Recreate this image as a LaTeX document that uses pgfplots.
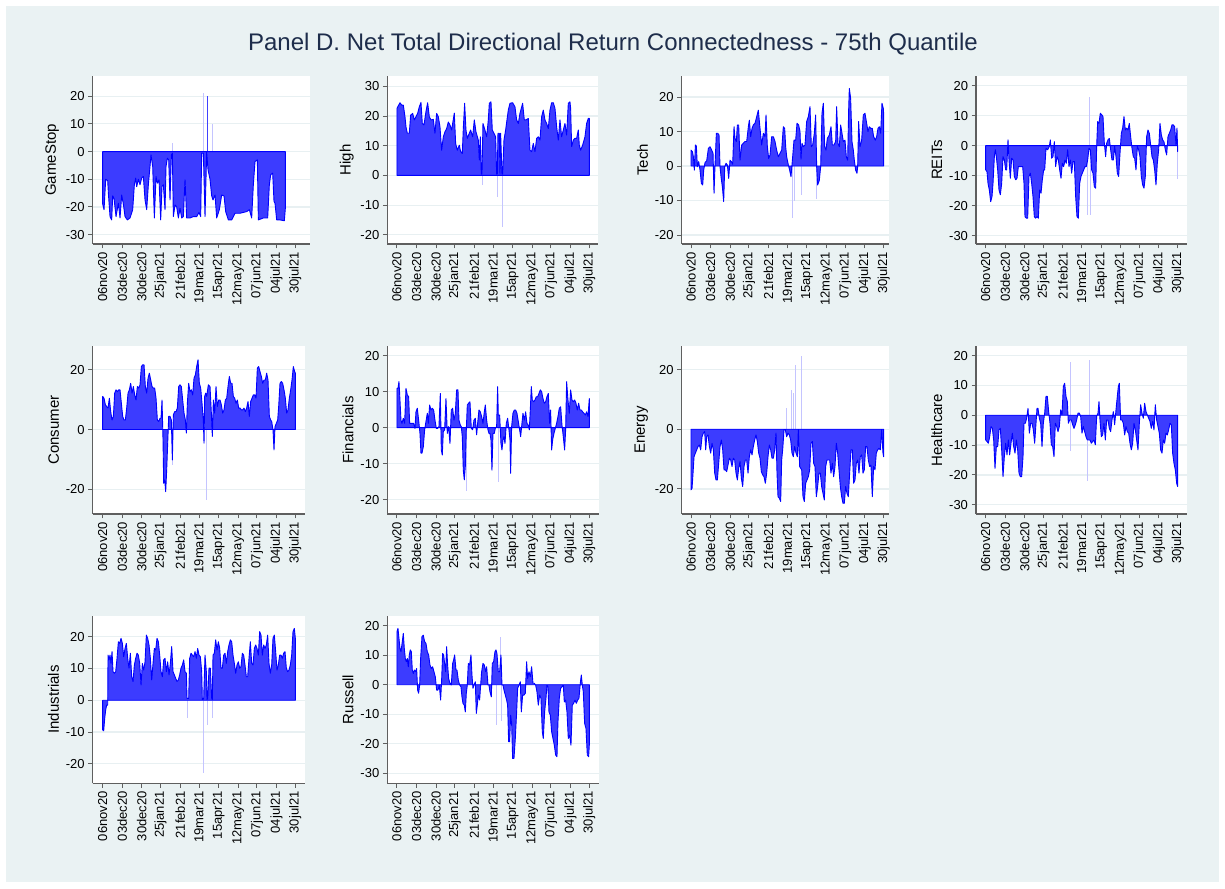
\documentclass[border=0pt]{standalone}
\usepackage{fontspec}
\setmainfont{Liberation Sans}
\usepackage{pgfplots}
\pgfplotsset{compat=1.18}
\definecolor{bgc}{RGB}{234,242,243}
\definecolor{gridc}{RGB}{232,240,242}
\definecolor{axc}{RGB}{95,95,95}
\definecolor{fillb}{RGB}{60,60,255}
\definecolor{lineb}{RGB}{0,0,255}
\definecolor{spk}{RGB}{196,196,255}
\definecolor{titc}{RGB}{30,45,75}
\pgfplotsset{
  panel/.style={
    scale only axis, height=168pt, anchor=south west,
    axis x line*=bottom, axis y line*=left,
    axis line style={axc, line width=1.2pt},
    tick align=outside, major tick length=4.5pt,
    tick style={axc, line width=1pt},
    ymajorgrids, grid style={gridc, line width=1.2pt},
    axis background/.style={fill=white},
    ticklabel style={font=\fontsize{13}{15}\selectfont, text=black},
    /pgf/number format/assume math mode=true,
    xticklabel style={rotate=90, anchor=east},
    xticklabels={06nov20,03dec20,30dec20,25jan21,21feb21,19mar21,15apr21,12may21,07jun21,04jul21,30jul21},
    ylabel style={font=\fontsize{15}{17}\selectfont, text=black},
    scaled y ticks=false,
  },
  grpA/.style={xtick={188,246.7,305.3,361.8,420.5,477,535.7,594.3,650.8,709.5,766}},
  grpB/.style={xtick={201,259.6,318.1,374.5,433.1,489.5,548.1,606.6,663,721.6,778}},
  grpC/.style={xtick={213,271.7,330.3,386.8,445.5,502,560.7,619.3,675.8,734.5,791}},
  grpD/.style={xtick={257,315.5,373.9,430.2,488.7,545,603.5,661.9,718.2,776.7,833}},
  areast/.style={draw=lineb, fill=fillb, line width=0.9pt, line join=round, mark=none},
  spikest/.style={ycomb, draw=spk, line width=0.7pt, mark=none},
}
\begin{document}
\begin{tikzpicture}
\useasboundingbox (0,0) rectangle (1225pt,888pt);
\fill[white] (0,0) rectangle (1225pt,888pt);
\fill[bgc] (6pt,6pt) rectangle (1219pt,882pt);
\node[anchor=base, font=\fontsize{24}{28}\selectfont, text=titc] at (613pt,837pt) {Panel D. Net Total Directional Return Connectedness - 75th Quantile};

% ---------- GameStop
\begin{axis}[panel, grpA, at={(92.7pt,644pt)}, width=217.3pt, xmin=158, xmax=810, ymin=-33.4, ymax=27.3, ytick={-30,-20,...,20}, ylabel={GameStop}]
\addplot[spikest] coordinates {(491,21)(517,10)(396,3)};
\addplot[ycomb, draw=lineb!75, line width=0.8pt, mark=none] coordinates {(502,20)};
\addplot[areast] coordinates {(188,-19)(192,-21)(197,-10)(203,-10.5)(205,-15)(210,-23.5)(215,-24.7)(218,-16)(222,-17)(228,-23.5)(235,-18.7)(240,-24)(245,-15.7)(250,-19)(255,-23.5)(262,-24.7)(270,-24)(278,-21)(283,-12)(287,-9.6)(290,-12.7)(295,-10)(300,-12)(305,-9.6)(310,-9)(315,-17.5)(320,-21)(325,-12)(333,-1.2)(338,-5.4)(343,-24)(348,-9)(352,-11.4)(357,-10.2)(362,-24.7)(366,-12.6)(370,-12)(375,-21)(378,-5.4)(382,-2.4)(386,-3)(390,-17.5)(394,-1.2)(397,-0.6)(400,-23.5)(405,-19.3)(410,-20)(415,-24)(420,-20.5)(425,-24)(430,-23.5)(435,-10.2)(440,-24)(450,-24)(460,-23.5)(470,-23.5)(477,-22)(482,-23.5)(485,-0.6)(490,-0.6)(495,-23.5)(500,-0.3)(504,-6.6)(510,-10)(515,-16)(519,-17.5)(525,-15.7)(530,-24)(538,-21)(545,-15.7)(552,-16)(557,-21.7)(565,-24.7)(575,-24.7)(585,-22.3)(600,-22.3)(620,-21.7)(628,-21)(635,-24)(640,-12)(645,-3.6)(652,-3)(655,-24.7)(670,-24)(683,-24)(688,-12)(692,-8.4)(698,-7.8)(702,-18)(705,-18.7)(710,-24.7)(720,-24.7)(733,-25)(736,-20.5)} \closedcycle;
\end{axis}

% ---------- High
\begin{axis}[panel, grpB, at={(387.3pt,644pt)}, width=211pt, xmin=172, xmax=805, ymin=-23.1, ymax=33.5, ytick={-20,-10,...,30}, ylabel={High}]
\addplot[spikest] coordinates {(457,-3.3)(502,-7.2)(516,-17.3)};
\addplot[areast] coordinates {(201,22.6)(210,24.5)(215,23.7)(220,23.7)(225,19.8)(228,16.4)(232,14.2)(238,14.2)(242,20.3)(248,20.9)(253,18.7)(258,19.8)(263,20.9)(268,23.1)(273,24.6)(277,17.5)(282,17)(288,21.5)(293,24.5)(298,19.8)(303,18.7)(310,18.9)(315,14.2)(320,20.9)(325,19.8)(330,16.4)(335,8.5)(340,13)(345,14.7)(350,15.8)(355,18)(360,17)(365,15.3)(373,21)(377,10.8)(382,8.5)(388,10.2)(392,8)(397,7.4)(400,15.8)(404,24.3)(408,15.3)(412,12.5)(418,14.2)(422,15.3)(428,13)(433,18.7)(438,14.7)(445,11.9)(448,5.2)(451,13)(454,0.5)(456,0.5)(459,17.5)(465,15.3)(470,13)(475,18.7)(478,24.3)(483,24.8)(487,15.3)(492,14.2)(497,13)(500,0.5)(502,0.5)(504,14.2)(508,14.2)(510,0.5)(512,14.2)(516,0.5)(518,0.5)(522,11.9)(527,15.3)(531,18.7)(535,22)(540,24.3)(548,24.5)(555,23.1)(560,18.7)(565,17.5)(570,20.9)(578,24.3)(583,18.7)(588,18.7)(595,19.2)(600,8.5)(605,8)(610,10.8)(615,8)(620,12.5)(625,13)(630,11.9)(635,19.8)(640,22)(645,18.7)(650,17.5)(655,15.8)(660,22)(665,24.5)(670,24.5)(675,22.6)(680,16.4)(685,11.9)(690,18.7)(695,13)(700,15.3)(705,17.5)(710,13.6)(715,24.3)(720,24.8)(722,22.6)(725,9.7)(730,11.9)(735,12.5)(740,12.5)(745,15.3)(748,10.2)(752,8.5)(758,10.2)(765,13)(770,17.5)(775,19.2)(778,19.2)} \closedcycle;
\end{axis}

% ---------- Tech
\begin{axis}[panel, grpC, at={(681.7pt,644pt)}, width=207.6pt, xmin=185, xmax=808, ymin=-22.6, ymax=26.1, ytick={-20,-10,...,20}, ylabel={Tech}]
\addplot[spikest] coordinates {(516,-15.2)(522,-10)(543,-8.4)(590,-9.5)};
\addplot[areast] coordinates {(213,4.6)(217,4.2)(220,2.7)(223,-1.2)(226,6.1)(229,5.8)(232,-0.2)(236,1.3)(240,-1.2)(244,-5)(248,-5.5)(251,-1.2)(255,1)(260,1.5)(265,5.1)(270,5.6)(275,4.6)(279,3.7)(282,-7.9)(285,0.3)(289,9.5)(293,9.5)(297,9)(300,-0.2)(303,-3.1)(307,-6)(311,-10.3)(314,-0.2)(318,0.8)(322,0.3)(326,-3.6)(330,1.7)(334,1.3)(338,0.5)(342,11.4)(345,8)(349,7.1)(352,11.9)(356,11.9)(360,1.7)(365,6.1)(370,6.6)(375,7.1)(380,7.1)(385,11.4)(388,13.3)(392,8.5)(396,10.9)(400,11.9)(405,12.4)(410,14.3)(415,16.2)(420,10.9)(425,6.1)(430,9.5)(435,8.5)(438,14.8)(442,5.6)(446,2.2)(450,3.2)(455,8.5)(460,8.5)(465,7.1)(470,4.6)(475,2.7)(480,3.7)(485,4.6)(490,11.4)(494,10.9)(497,5.6)(500,2.7)(505,0.3)(509,-1.2)(513,-3.1)(518,2.7)(522,7.5)(527,7.5)(531,12.4)(536,11.9)(540,10)(543,2)(546,6.6)(550,5.6)(555,6.1)(560,12.9)(565,14.3)(570,17.2)(574,5.6)(578,6.1)(583,9.5)(587,14.8)(590,-0.2)(593,-5.5)(598,-4.1)(602,-0.2)(606,15.3)(610,18.2)(614,5.6)(618,4.6)(622,8)(628,9)(633,11.4)(637,6.1)(642,6.1)(647,7.1)(650,17.2)(654,6.6)(658,5.6)(662,11.9)(666,9.5)(670,7.1)(675,7.5)(679,2.7)(683,1.7)(686,16.2)(688,22.5)(692,19.6)(696,7.1)(700,4.6)(703,1.7)(707,-1.2)(711,-2.1)(713,-0.2)(716,12.9)(720,5.6)(725,7.5)(730,14.8)(735,15.3)(740,12.4)(744,10)(748,11.4)(753,10.9)(757,10.9)(761,8.5)(766,7.5)(770,8.5)(774,10.9)(778,11.4)(782,9.5)(786,18.2)(790,16.7)(791,15.3)} \closedcycle;
\end{axis}

% ---------- REITs
\begin{axis}[panel, grpD, at={(976pt,644pt)}, width=211.3pt, xmin=228, xmax=862, ymin=-32.8, ymax=23.2, ytick={-30,-20,...,20}, ylabel={REITs}]
\addplot[spikest] coordinates {(569,16.3)(563,-23)(571,-23)(833,-11)};
\addplot[areast] coordinates {(257,-8.1)(261,-8.7)(264,-12.6)(268,-14.8)(272,-18.7)(276,-17)(279,-12.6)(283,-3.7)(286,-1.4)(289,-3.7)(293,-8.1)(297,-14.8)(301,-16.4)(305,-12.6)(309,-3.7)(313,-4.8)(317,-8.1)(320,-8.1)(324,1.9)(327,-4.8)(331,-10.9)(335,-4.2)(339,-4.8)(343,-10.3)(347,-11.4)(351,-10.9)(355,-7)(359,-7)(363,-7)(368,-7)(372,-12.6)(375,-23.7)(379,-24.2)(383,-24.2)(387,-10.3)(391,-9.2)(395,-12.6)(399,-17)(403,-23.7)(407,-24.2)(411,-23.7)(415,-24.2)(419,-14.8)(423,-15.9)(427,-11.4)(431,-8.1)(434,-8.1)(438,-0.9)(443,-1.4)(448,-0.3)(451,1.9)(455,-4.2)(459,-3.7)(463,1.3)(467,-7)(471,-3.7)(475,-4.8)(479,-8.1)(483,-10.9)(487,-5.9)(491,-7)(495,-4.8)(499,-5.9)(503,-1.4)(507,-7)(511,-4.8)(515,-9.2)(519,-5.3)(523,-5.3)(527,-17)(531,-23.7)(535,-24.2)(539,-12.6)(543,-10.3)(547,-9.2)(551,-8.1)(555,-7)(559,-7)(563,-4.8)(567,-0.9)(571,-1.4)(575,-8.1)(579,-9.2)(583,-13.7)(587,-14.2)(590,-0.3)(593,8)(597,7.4)(601,10.8)(605,10.3)(609,9.7)(613,0.8)(617,-3.7)(620,0.8)(624,1.9)(628,2.4)(632,-1.4)(636,-4.8)(640,-4.8)(644,-0.3)(648,-3.7)(652,-9.2)(656,-10.3)(660,-2.6)(664,4.1)(668,5.8)(672,9.7)(676,5.2)(680,5.8)(684,5.2)(688,7.4)(692,3)(696,-0.9)(700,-3.7)(704,-4.2)(708,-8.1)(712,-0.3)(716,-1.4)(720,-3.7)(724,-10.3)(728,-13.1)(732,-14.2)(736,-10.3)(740,3)(744,5.2)(748,4.1)(752,0.2)(756,-3.7)(760,-4.8)(764,-8.1)(768,-13.1)(772,-5.9)(776,-1.4)(780,7.4)(784,3.6)(788,1.9)(792,1.3)(796,-1.4)(800,-3.1)(804,3)(808,4.1)(812,5.2)(816,6.9)(820,6.9)(824,6.3)(828,0.2)(831,5.8)(833,-2)} \closedcycle;
\end{axis}

% ---------- Consumer
\begin{axis}[panel, grpA, at={(92.7pt,374pt)}, width=212.3pt, xmin=158, xmax=795, ymin=-28.3, ymax=28, ytick={-20,0,20}, ylabel={Consumer}]
\addplot[spikest] coordinates {(499,-23.6)(398,-12)};
\addplot[areast] coordinates {(188,11.1)(192,10.5)(196,8.3)(200,7.7)(204,7.2)(208,10.5)(212,6)(216,3.2)(220,4.4)(224,12.2)(228,13.3)(232,12.7)(236,13.3)(240,13.3)(244,8.8)(248,4.4)(252,3.2)(256,3.2)(260,7.2)(264,12.2)(268,13.3)(272,15.5)(276,12.2)(280,14.4)(284,11.6)(288,9.9)(292,14.4)(296,13.9)(300,15)(304,21.1)(308,21.7)(312,21.7)(316,14.4)(320,12.2)(324,17.2)(328,18.9)(332,16.6)(336,14.4)(340,13.9)(344,13.9)(348,10.5)(352,3.2)(356,2.7)(360,3.8)(363,3.8)(366,9.9)(369,-3.5)(371,-18)(374,-16.9)(377,-20.8)(380,-13.5)(383,-4.6)(386,4.4)(390,4.4)(394,3.2)(397,-10.2)(400,4.9)(404,6)(408,6)(412,7.2)(416,14.4)(420,15)(424,14.4)(428,9.9)(432,5.5)(436,3.2)(439,-1.2)(442,8.8)(446,15.5)(450,12.7)(454,13.3)(458,11.6)(462,17.2)(466,18.3)(470,21.1)(474,23.4)(478,15.5)(482,13.9)(486,8.8)(490,3.2)(492,-4.6)(494,11.1)(497,12.2)(500,11.1)(505,15)(510,14.4)(514,5.5)(517,-2.3)(520,9.9)(524,5.5)(528,14.4)(532,7.7)(536,9.9)(540,9.9)(544,8.3)(548,5.5)(552,6.6)(556,9.9)(560,10.5)(564,14.4)(568,17.8)(572,15.5)(576,15.5)(580,11.1)(584,10.5)(588,8.8)(592,9.9)(596,7.2)(600,7.2)(604,6.6)(608,6.6)(612,7.2)(616,6)(620,7.2)(624,9.4)(628,4.4)(632,9.4)(636,10.5)(640,11.6)(644,11.6)(648,10.5)(652,20.6)(656,21.1)(660,19.4)(664,17.8)(668,15.5)(672,16.6)(676,16.6)(680,18.9)(684,16.6)(688,4.4)(692,3.2)(695,2.7)(699,-0.1)(702,-6.8)(705,1)(709,2.1)(713,3.2)(716,7.7)(720,15.5)(724,16.1)(728,15.5)(732,13.3)(736,10.5)(740,5.5)(744,6.6)(748,10.5)(752,13.3)(756,16.6)(760,21.1)(764,19.4)(766,18.9)} \closedcycle;
\end{axis}

% ---------- Financials
\begin{axis}[panel, grpB, at={(387.3pt,374pt)}, width=212pt, xmin=172, xmax=808, ymin=-24, ymax=22.7, ytick={-20,-10,...,20}, ylabel={Financials}]
\addplot[spikest] coordinates {(408,-17.5)(505,-15)};
\addplot[areast] coordinates {(201,10.9)(204,10.9)(207,12.8)(210,7.7)(213,2.1)(216,1.2)(220,2.6)(224,1.2)(228,10.9)(232,9.1)(236,8.6)(239,1.2)(243,1.2)(247,1.2)(251,1.2)(255,-0.2)(258,4.4)(262,5.4)(266,2.1)(270,-1.6)(273,-7.1)(276,-7.1)(280,-5.3)(284,-0.6)(288,1.7)(292,4)(295,1.2)(299,6.3)(303,4.9)(307,5.4)(311,4.9)(315,2.1)(319,-0.2)(323,-0.2)(327,0.3)(331,9.5)(334,-6.2)(337,-7.6)(340,-1.1)(344,-0.6)(348,8.1)(352,-1.6)(356,0.3)(360,-4.4)(364,4.9)(368,5.4)(372,2.1)(376,4)(380,10.5)(384,10.5)(387,2.1)(391,0.7)(394,0.3)(397,-2.5)(400,-11.8)(403,-14.5)(406,-10.8)(409,-0.6)(412,6.3)(416,6.8)(420,7.2)(424,-0.2)(428,-0.6)(432,2.1)(436,2.6)(440,-2)(443,1.2)(447,4.9)(451,4.4)(455,3.1)(459,1.2)(463,4.4)(466,6.3)(470,2.1)(474,-0.6)(477,-1.6)(480,-1.6)(483,-3.4)(486,-11.8)(489,-1.6)(493,-1.6)(496,-0.2)(500,0.3)(503,11.4)(505,3.5)(509,3.5)(513,-4.4)(516,-6.2)(519,-3.4)(522,-2.5)(525,-4.4)(529,1.2)(533,2.6)(537,-0.6)(540,-3.4)(542,-12.7)(545,0.3)(549,4)(553,4.9)(557,4.9)(561,4)(565,1.7)(569,-0.6)(572,-2.5)(575,0.3)(579,4)(583,2.1)(587,4.4)(591,1.2)(595,0.7)(598,-0.6)(601,4.9)(604,11.4)(607,7.7)(611,7.2)(615,7.7)(619,8.6)(623,8.6)(627,9.5)(631,10.5)(635,10)(639,8.1)(643,6.8)(647,7.2)(651,8.6)(655,9.5)(659,1.2)(662,4.9)(665,-6.2)(668,-3.4)(672,-1.6)(676,-0.2)(680,1.2)(684,3.1)(688,5.4)(692,5.8)(696,0.7)(700,-2.5)(704,-6.2)(707,-0.6)(710,12.8)(714,7.7)(718,4)(722,10.5)(726,7.7)(730,7.2)(734,7.7)(738,6.8)(742,4.9)(746,6.8)(750,4.9)(754,4.9)(758,4.4)(762,4)(766,3.5)(770,4.4)(774,3.1)(778,8.1)} \closedcycle;
\end{axis}

% ---------- Energy
\begin{axis}[panel, grpC, at={(681.7pt,374pt)}, width=207.6pt, xmin=185, xmax=808, ymin=-28.4, ymax=27.9, ytick={-20,0,20}, ylabel={Energy}]
\addplot[spikest] coordinates {(498,7)(514,13.2)(519,12)(526,21.6)(543,24.6)};
\addplot[areast] coordinates {(213,-20.3)(216,-19.8)(219,-14.7)(222,-9.2)(226,-8)(230,-6.9)(234,-5.8)(238,-5.3)(242,-6.9)(246,-2.5)(250,-1.3)(254,-0.8)(257,-6.9)(260,-2.5)(264,-1.9)(268,-5.8)(272,-8)(276,-4.7)(280,-6.9)(284,-14.7)(288,-17)(292,-17)(296,-11.4)(300,-5.8)(304,-3.6)(308,-6.9)(312,-13.6)(316,-13.6)(320,-14.2)(324,-12)(328,-9.7)(332,-10.3)(336,-12.5)(340,-9.7)(344,-10.3)(348,-14.7)(352,-17)(356,-13.1)(360,-10.8)(364,-16.4)(368,-19.2)(372,-12.5)(376,-10.3)(380,-10.3)(384,-14.7)(388,-9.2)(392,-6.9)(396,-8.6)(400,-5.8)(404,-3.6)(408,-1.9)(412,-4.1)(416,-8)(420,-9.7)(424,-14.2)(428,-15.3)(432,-15.9)(436,-18.1)(440,-14.7)(444,-9.2)(448,-5.3)(452,-6.9)(456,-9.7)(460,-9.7)(464,-6.9)(468,-1.3)(471,-14.7)(474,-22.6)(478,-23.1)(482,-24.2)(485,-10.3)(488,-6.9)(492,-0.2)(496,-0.2)(500,-2.5)(504,-1.3)(508,-1.9)(512,-3.6)(516,-8)(520,-9.2)(524,-5.8)(528,-8)(532,-9.2)(535,-0.2)(539,-12.5)(545,-13.6)(549,-22.6)(553,-24.2)(557,-18.1)(561,-17)(565,-15.9)(569,-13.6)(573,-4.7)(577,-4.1)(581,-11.4)(585,-12.5)(589,-22.6)(593,-19.2)(597,-14.7)(601,-14.7)(605,-19.2)(609,-21.5)(613,-23.7)(617,-12.5)(621,-10.3)(625,-10.3)(629,-10.3)(633,-14.7)(637,-11.4)(641,-15.9)(645,-12.5)(649,-4.7)(653,-8)(657,-13.6)(661,-19.2)(665,-22.6)(669,-24.8)(673,-24.8)(677,-19.2)(681,-21.5)(685,-22.6)(689,-14.7)(693,-6.9)(697,-6.9)(701,-18.1)(705,-17)(709,-11.4)(713,-10.3)(717,-14.7)(721,-9.2)(725,-8.6)(729,-14.7)(733,-13.6)(737,-5.8)(741,-5.8)(745,-10.3)(749,-12.5)(753,-12)(757,-22.6)(761,-12.5)(765,-13.6)(769,-8)(773,-6.9)(777,-6.4)(781,-6.9)(785,-0.2)(789,-8)(791,-9.2)} \closedcycle;
\end{axis}

% ---------- Healthcare
\begin{axis}[panel, grpD, at={(976pt,374pt)}, width=211.3pt, xmin=228, xmax=862, ymin=-33.1, ymax=23.2, ytick={-30,-20,...,20}, ylabel={Healthcare}]
\addplot[spikest] coordinates {(512,18)(568,18.5)(562,-22)(510,-12)};
\addplot[areast] coordinates {(257,-8.3)(261,-8.8)(265,-9.4)(269,-7.2)(273,-3.8)(277,-4.4)(281,-8.3)(285,-17.8)(289,-10.5)(293,-10.5)(297,-4.9)(301,-4.4)(305,-11.6)(309,-20.6)(313,-13.9)(317,-9.4)(321,-13.3)(325,-8.3)(329,-13.3)(333,-9.4)(337,-6)(341,-10.5)(345,-12.7)(349,-8.3)(353,-11.6)(357,-19.4)(361,-20.6)(365,-20.6)(369,-13.9)(372,-2.7)(376,-2.7)(380,-1)(384,2.3)(388,-6)(392,-2.7)(396,-2.7)(400,-4.9)(404,-9.4)(408,-2.7)(411,2.3)(414,2.3)(418,-1)(422,-2.7)(426,-10.5)(430,-2.7)(434,0.7)(438,6.3)(442,6.3)(446,1.2)(450,-2.7)(454,-9.9)(458,-10.5)(462,-13.9)(466,-2.7)(470,-3.8)(474,-5.5)(478,-3.8)(482,1.8)(486,0.1)(490,9.6)(494,10.7)(498,6.3)(502,4.6)(505,-2.7)(509,-1.6)(514,-1.6)(518,-3.2)(522,-4.4)(526,-3.2)(530,-1.6)(534,0.7)(538,0.7)(542,-0.4)(546,-6)(550,-3.8)(554,-5.5)(558,-7.2)(562,-8.3)(566,-8.3)(570,-8.3)(574,-9.4)(578,-8.8)(582,-8.3)(586,-9.9)(590,-0.4)(594,0.7)(597,4.6)(600,-1.6)(604,-7.2)(608,-6.6)(612,-2.7)(616,-8.3)(620,-1.6)(624,-1.6)(628,-4.4)(632,-5.5)(636,-1.6)(640,1.2)(644,-3.2)(648,1.8)(652,6.3)(655,9.6)(658,10.7)(662,-1.6)(666,-1.6)(670,-2.7)(674,-6.6)(678,-3.8)(682,-5.5)(686,-6)(690,-9.4)(694,-11.6)(698,-9.4)(702,-2.7)(706,-4.9)(710,-8.3)(714,-11.6)(718,-2.7)(722,3.5)(726,0.7)(730,-1)(734,4)(738,1.2)(742,0.1)(746,-1)(750,-2.1)(754,-4.4)(758,-2.1)(762,-4.9)(766,3.5)(770,-1.6)(774,-3.8)(778,-6)(782,-11.6)(786,-12.7)(790,-8.3)(794,-9.4)(798,-6)(802,-6.6)(806,-4.9)(810,-2.7)(814,-3.2)(818,-12.7)(822,-16.1)(826,-18.3)(830,-22.8)(833,-23.9)} \closedcycle;
\end{axis}

% ---------- Industrials
\begin{axis}[panel, grpA, at={(92.7pt,104.7pt)}, width=212.3pt, height=167.6pt, xmin=158, xmax=795, ymin=-26.1, ymax=26.6, ytick={-20,-10,...,20}, ylabel={Industrials}]
\addplot[spikest] coordinates {(443,-5.7)(489,-22.9)(501,-7.7)(517,-5.7)};
\addplot[areast] coordinates {(188,-9.3)(191,-9.6)(194,-5.7)(197,-3)(200,-1.5)(203,-1.5)(204,14.2)(207,12.7)(210,14.2)(213,11.6)(216,15.3)(219,9)(223,8.5)(227,9)(231,13.2)(235,18.4)(239,17.9)(243,19.5)(247,17.9)(251,13.7)(255,16.3)(259,17.9)(263,13.2)(267,10.1)(271,14.8)(275,7.4)(279,5.9)(283,11.1)(287,13.2)(291,14.8)(295,14.2)(299,11.6)(303,4.8)(307,11.6)(311,9.5)(315,12.1)(319,20.5)(323,19.5)(327,17.4)(331,13.2)(335,6.4)(339,11.6)(343,16.3)(347,15.8)(351,19.5)(355,18.4)(359,14.2)(363,9)(367,7.4)(371,12.7)(375,13.2)(379,9)(383,12.1)(387,8)(391,11.6)(395,16.9)(399,9)(403,8)(407,6.9)(411,5.9)(415,6.4)(419,8)(423,10.1)(427,11.1)(431,12.7)(435,9)(439,8.5)(441,0.6)(446,0.6)(449,13.2)(453,14.8)(457,14.2)(461,13.7)(465,15.3)(469,13.2)(473,16.3)(477,14.2)(481,13.7)(485,9)(487,0.1)(491,0.6)(495,14.2)(499,9)(501,0.3)(503,0.6)(507,10.1)(511,10.1)(515,0.6)(517,0.3)(519,14.2)(523,14.8)(527,19)(531,15.8)(535,18.4)(539,16.3)(543,10.1)(547,10.1)(551,14.2)(555,14.8)(559,11.6)(563,15.3)(567,17.4)(571,19)(575,18.4)(579,14.2)(583,11.6)(587,8.5)(591,11.1)(595,12.1)(599,10.1)(603,10.6)(607,14.8)(611,14.2)(615,11.1)(619,7.4)(623,7.4)(627,13.2)(631,18.4)(635,11.6)(639,11.1)(643,16.3)(647,17.4)(651,16.3)(655,14.2)(659,21.6)(663,20.5)(667,14.2)(671,17.4)(675,16.3)(679,17.4)(683,20.5)(687,11.6)(691,8.5)(695,11.1)(699,19.5)(703,20.5)(707,15.3)(711,9.5)(715,11.1)(719,14.2)(723,14.2)(727,13.2)(731,14.8)(735,15.3)(739,10.1)(743,9)(747,9.5)(751,11.1)(755,14.2)(759,21.6)(763,22.6)(766,19.5)} \closedcycle;
\end{axis}

% ---------- Russell
\begin{axis}[panel, grpB, at={(387.3pt,104.7pt)}, width=212pt, height=167.6pt, xmin=172, xmax=808, ymin=-33.4, ymax=23.4, ytick={-30,-20,...,20}, ylabel={Russell}]
\addplot[spikest] coordinates {(512,16.3)(500,-13.6)(515,-12.3)};
\addplot[areast] coordinates {(201,18)(204,19.1)(207,15.7)(210,12.3)(213,11.2)(217,14.6)(220,17.4)(223,12.3)(226,8.9)(229,7.8)(232,8.9)(235,6.1)(238,10.1)(241,11.8)(244,11.2)(247,5)(250,3.8)(253,5)(257,4.4)(260,5.5)(263,-1.8)(266,-2.9)(269,-0.1)(272,8.9)(276,16.3)(280,16.8)(284,14.6)(288,14)(292,11.2)(296,10.1)(300,6.7)(304,5.5)(308,6.1)(312,4.4)(316,2.7)(320,-1.8)(324,-1.8)(328,-0.1)(332,-5.2)(335,1.6)(338,10.6)(341,10.1)(344,7.2)(347,4.4)(350,12.9)(353,6.7)(356,2.1)(360,0.5)(364,-0.1)(368,7.2)(371,8.4)(374,10.1)(378,5)(381,5)(385,1.6)(389,-0.1)(393,-0.7)(396,-4.1)(399,-6.3)(403,-6.9)(406,-9.2)(409,-2.9)(412,-0.1)(415,7.2)(419,6.7)(423,10.1)(426,3.3)(429,-1.2)(432,-0.1)(436,1)(439,-9.7)(442,-6.9)(445,-3.5)(449,-5.2)(452,-0.1)(455,4.4)(459,7.2)(463,6.7)(467,4.4)(470,6.1)(474,-0.1)(477,-0.1)(480,-2.4)(484,-4.1)(487,7.2)(491,7.8)(495,11.2)(498,11.8)(501,10.6)(505,4.4)(509,4.4)(513,10.1)(516,-0.1)(519,-0.1)(522,-1.8)(526,-3.5)(530,-5.2)(533,-6.9)(536,-19.3)(539,-19.3)(542,-10.3)(545,-13.1)(548,-25)(552,-25)(556,-18.2)(560,-9.2)(563,-1.2)(567,-0.1)(571,1)(574,-9.2)(578,-3.5)(582,-3.5)(586,-2.9)(590,7.8)(593,2.1)(597,4.4)(601,2.7)(605,6.1)(609,0.5)(613,0.5)(617,-0.1)(621,-2.4)(625,-6.9)(629,-3.5)(633,-4.6)(637,-15.9)(640,-18.2)(644,-9.2)(648,-4.6)(651,-0.1)(654,-0.7)(657,-9.2)(661,-10.3)(665,-15.9)(669,-18.2)(673,-20.5)(677,-23.8)(681,-24.4)(684,-12.5)(688,-4.6)(692,-1.2)(696,-0.7)(700,-0.1)(703,-5.8)(707,-5.2)(711,-9.2)(715,-18.2)(719,-17.1)(723,-20.5)(727,-6.9)(731,-6.3)(735,-5.2)(739,-6.3)(743,-5.2)(747,-4.6)(751,0.5)(754,3.3)(757,-0.1)(760,-2.4)(764,-13.1)(768,-14.8)(772,-23.8)(776,-24.4)(778,-20.5)} \closedcycle;
\end{axis}
\end{tikzpicture}
\end{document}
